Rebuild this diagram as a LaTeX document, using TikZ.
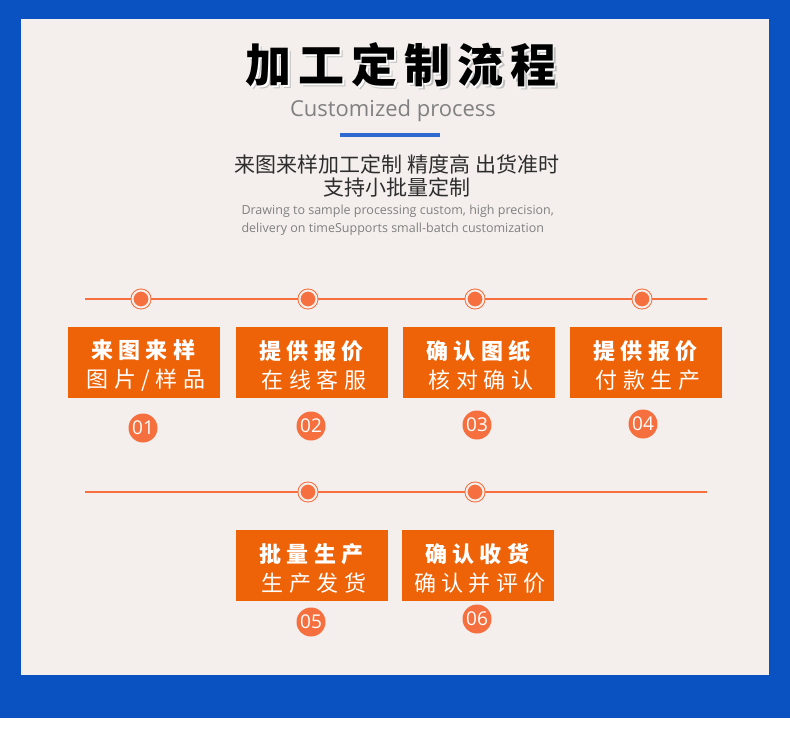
\documentclass[tikz,border=0pt]{standalone}
\usepackage{fontspec}
\setmainfont{Open Sans}
\newfontfamily\cjk{Noto Sans CJK SC}
\newfontfamily\cjkbox[LetterSpace=25]{Noto Sans CJK SC}
\newfontfamily\cjktitle[LetterSpace=15]{Noto Sans CJK SC}
\usetikzlibrary{positioning}
\definecolor{bgblue}{RGB}{10, 82, 194}
\definecolor{panelgray}{RGB}{244, 239, 236}
\definecolor{boxorange}{RGB}{238, 98, 8}
\definecolor{lineorange}{RGB}{245, 112, 62}
\definecolor{barblue}{RGB}{46, 106, 208}
\definecolor{txtgray}{RGB}{128, 128, 128}
\definecolor{txtdark}{RGB}{45, 45, 45}

\begin{document}
\begin{tikzpicture}[x=1pt, y=-1pt,
    stepbox/.style={fill=boxorange, minimum width=152pt, minimum height=71pt, inner sep=0pt},
    steptext/.style={text=white, align=center, inner sep=0pt, font=\cjkbox\fontsize{22}{29}\selectfont},
    dot/.style={circle, fill=lineorange, draw=lineorange, double=panelgray, double distance=2pt,
        line width=1pt, minimum size=17pt, inner sep=0pt},
    numbadge/.style={circle, fill=lineorange, minimum size=29pt, inner sep=0pt,
        text=white, font=\fontsize{19}{19}\selectfont},
    timeline/.style={draw=lineorange, line width=2pt},
    titletext/.style={font=\cjktitle\bfseries\fontsize{46}{46}\selectfont}
]

% Fondo y panel
\fill[white] (0,0) rectangle (790,750);
\fill[bgblue] (0,0) rectangle (790,718);
\fill[panelgray] (21,19) rectangle (769,675);
\useasboundingbox (0,0) rectangle (790,750);

% Titulo
\node[titletext, text=black!25] at (404,68) {加工定制流程};
\node[titletext, text=white] at (402.5,66.5) {加工定制流程};
\node[titletext, text=black] (title) at (401,65) {加工定制流程};
\node[font=\fontsize{22}{22}\selectfont, text=txtgray] (subtitle) at (393,111) {Customized process};
\fill[barblue] (340,133) rectangle (440,137);

% Descripcion
\node[font=\cjk\fontsize{21}{22.5}\selectfont, text=txtdark, align=center] (desc) at (397,176)
    {来图来样加工定制 精度高 出货准时\\支持小批量定制};
\node[font=\fontsize{12.5}{18}\selectfont, text=txtgray, align=left, anchor=north west] (descen) at (238,201)
    {Drawing to sample processing custom, high precision,\\delivery on timeSupports small-batch customization};

% Lineas de tiempo
\coordinate (l1a) at (85,299);
\coordinate (l1b) at (707,299);
\coordinate (l2a) at (85,492);
\coordinate (l2b) at (707,492);
\draw[timeline] (l1a) -- (l1b);
\draw[timeline] (l2a) -- (l2b);

% Puntos
\foreach \n/\x in {1/141, 2/308, 3/475, 4/642} {
    \node[dot] (d\n) at (\x,299) {};
}
\node[dot] (d5) at (308,492) {};
\node[dot] (d6) at (475,492) {};

% Cajas
\node[stepbox] (s1) at (144,362.5) {};
\node[stepbox] (s2) at (312,362.5) {};
\node[stepbox] (s3) at (479,362) {};
\node[stepbox] (s4) at (646,362.5) {};
\node[stepbox] (s5) at (312,565.5) {};
\node[stepbox] (s6) at (478,565.5) {};
\node[steptext] (t1) at ([xshift=2pt, yshift=-3pt]s1.center) {\textbf{来图来样}\\图片/样品};
\node[steptext] (t2) at ([xshift=2pt, yshift=-3pt]s2.center) {\textbf{提供报价}\\在线客服};
\node[steptext] (t3) at ([xshift=2pt, yshift=-3pt]s3.center) {\textbf{确认图纸}\\核对确认};
\node[steptext] (t4) at ([xshift=2pt, yshift=-3pt]s4.center) {\textbf{提供报价}\\付款生产};
\node[steptext] (t5) at ([xshift=2pt, yshift=-3pt]s5.center) {\textbf{批量生产}\\生产发货};
\node[steptext] (t6) at ([xshift=2pt, yshift=-3pt]s6.center) {\textbf{确认收货}\\确认并评价};

% Numeros
\node[numbadge] (n1) at (143,428) {01};
\node[numbadge] (n2) at (311,426) {02};
\node[numbadge] (n3) at (477,425) {03};
\node[numbadge] (n4) at (643,424) {04};
\node[numbadge] (n5) at (311,622) {05};
\node[numbadge] (n6) at (477,619) {06};

\end{tikzpicture}
\end{document}
